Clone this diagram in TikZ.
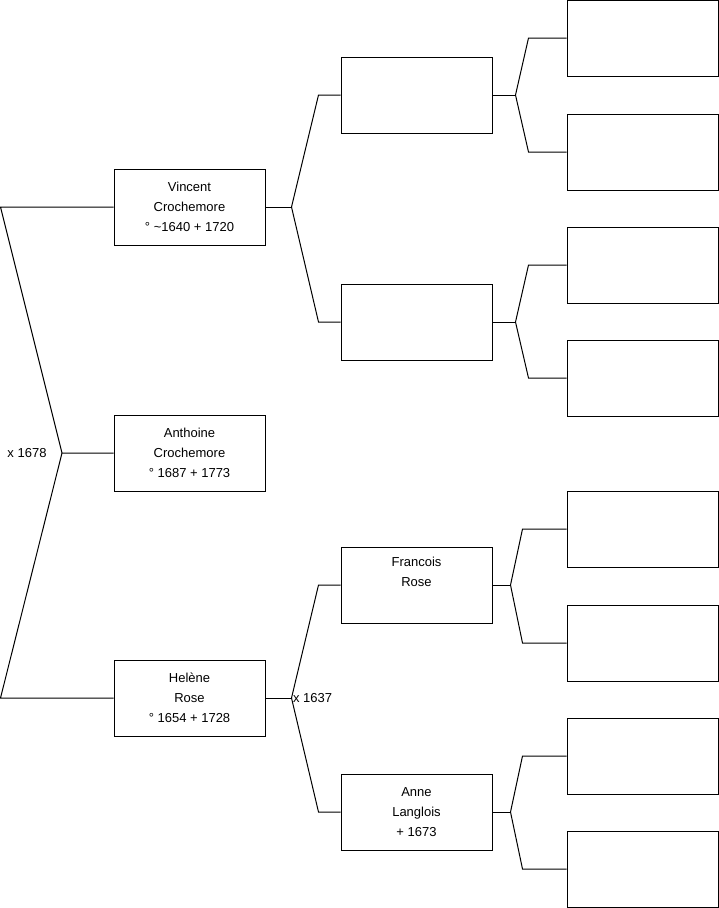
\documentclass[tikz,border=0pt]{standalone}
\usepackage{fontspec}
\setmainfont{Liberation Sans}
\begin{document}
\begin{tikzpicture}[x=1pt, y=-1pt, line width=1pt,
    person/.style={draw, minimum width=151pt, minimum height=76pt, inner sep=0pt,
      align=center, font=\fontsize{13}{20}\selectfont},
    mark label/.style={font=\fontsize{13}{15}\selectfont, inner sep=1pt}]
    \useasboundingbox (0,0) rectangle (719,908);

    % --- GENERATION 1 ---
    \node[person] (anthoine) at (189.5,453) {Anthoine\\Crochemore\\° 1687 + 1773};
    \node[person] (vincent) at (189.5,207) {Vincent\\Crochemore\\° \textasciitilde1640 + 1720};
    \node[person] (helene) at (189.5,698) {Helène\\Rose\\° 1654 + 1728};

    % --- GENERATION 2 ---
    \node[person] (p1) at (416.5,95) {};
    \node[person] (p2) at (416.5,322) {};
    \node[person] (p3) at (416.5,585) {Francois\\Rose\\\strut};
    \node[person] (p4) at (416.5,812) {Anne\\Langlois\\+ 1673};

    % --- GENERATION 3 (empty) ---
    \foreach \i/\y in {1/38, 2/152, 3/265, 4/378, 5/529, 6/643, 7/756, 8/869} {
        \node[person] (g\i) at (642.5,\y) {};
    }

    % Marriage brackets
    \coordinate (m1678) at (62,453);
    \node[mark label, anchor=east] at ([xshift=-14pt]m1678) {x 1678};
    \draw (vincent.west) -- ++(-113,0) -- (m1678) -- (anthoine.west);
    \draw (helene.west) -- ++(-113,0) -- (m1678);

    \draw (vincent.east) -- ++(26,0) coordinate (mv);
    \draw (mv) -- ([xshift=-22pt]p1.west) -- (p1.west);
    \draw (mv) -- ([xshift=-22pt]p2.west) -- (p2.west);

    \draw (helene.east) -- ++(26,0) coordinate (mh);
    \node[mark label, anchor=west] at (mh) {x 1637};
    \draw (mh) -- ([xshift=-22pt]p3.west) -- (p3.west);
    \draw (mh) -- ([xshift=-22pt]p4.west) -- (p4.west);

    \foreach \p/\a/\b/\v/\k in {p1/g1/g2/23/38, p2/g3/g4/23/38, p3/g5/g6/18/44, p4/g7/g8/18/44} {
        \draw (\p.east) -- ++(\v,0) coordinate (j);
        \draw (j) -- ([xshift=-\k pt]\a.west) -- (\a.west);
        \draw (j) -- ([xshift=-\k pt]\b.west) -- (\b.west);
    }

\end{tikzpicture}
\end{document}
